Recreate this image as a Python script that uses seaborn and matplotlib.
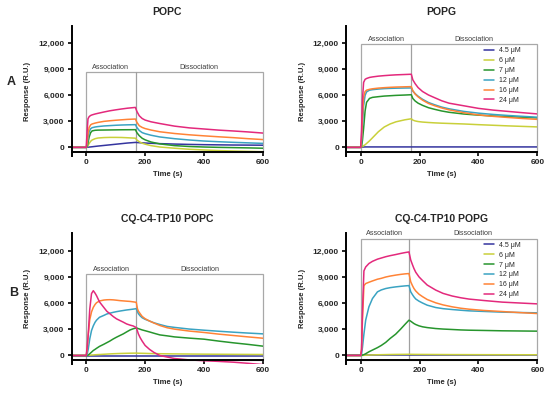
import numpy as np
import matplotlib
matplotlib.use("Agg")
import matplotlib.pyplot as plt
import matplotlib.patches as mpatches
import seaborn as sns

# ── Data ─────────────────────────────────────────────────────────────────────
LABELS = ["4.5 μM", "6 μM", "7 μM", "12 μM", "16 μM", "24 μM"]
COLORS = ["#34349f", "#c9d03a", "#27952d", "#3aa3c2", "#ff8336", "#e3297c"]

# A - POPC
T_A_POPC = [-50, 0, 3, 6, 10, 15, 20, 30, 40, 60, 80, 100, 120, 140, 167,
            172, 180, 190, 200, 220, 250, 300, 350, 400, 450, 500, 550, 600]
A_POPC_45 = [0, 0, 10, 20, 35, 50, 70, 110, 150, 220, 290, 360, 430, 500, 570,
             560, 540, 520, 500, 470, 430, 380, 340, 310, 290, 270, 260, 250]
A_POPC_6 = [0, 0, 50, 200, 450, 700, 850, 1000, 1080, 1130, 1150, 1150, 1140, 1110, 1060,
            850, 650, 480, 370, 200, 40, -100, -220, -300, -370, -420, -460, -500]
A_POPC_7 = [0, 0, 100, 500, 1200, 1700, 1900, 1970, 1990, 2000, 2010, 2020, 2030, 2035, 2040,
            1700, 1350, 1050, 870, 620, 400, 200, 100, 40, 0, -30, -60, -100]
A_POPC_12 = [0, 0, 300, 1000, 1800, 2150, 2270, 2350, 2400, 2470, 2510, 2550, 2580, 2600, 2620,
             2300, 1950, 1700, 1580, 1400, 1200, 1000, 850, 730, 650, 580, 520, 460]
A_POPC_16 = [0, 0, 500, 1500, 2300, 2600, 2700, 2800, 2880, 3000, 3070, 3130, 3180, 3230, 3270,
             2900, 2500, 2300, 2170, 2000, 1800, 1600, 1450, 1330, 1220, 1120, 1000, 900]
A_POPC_24 = [0, 0, 1800, 3300, 3550, 3680, 3750, 3850, 3930, 4080, 4220, 4330, 4430, 4520, 4610,
             4150, 3650, 3330, 3150, 2950, 2750, 2450, 2250, 2120, 1990, 1890, 1780, 1650]

# A - POPG
T_A_POPG = [-50, 0, 3, 6, 10, 15, 20, 30, 40, 60, 80, 100, 120, 150, 172,
            177, 185, 195, 210, 230, 250, 275, 300, 350, 400, 450, 500, 550, 600]
A_POPG_45 = [0, 0, 20, 30, 40, 50, 50, 50, 50, 50, 50, 50, 50, 50, 50,
             50, 50, 50, 50, 50, 50, 50, 50, 50, 50, 50, 50, 50, 50]
A_POPG_6 = [0, 0, 50, 100, 200, 300, 450, 750, 1100, 1800, 2350, 2700, 2950, 3180, 3300,
            3150, 3050, 2980, 2920, 2870, 2830, 2790, 2760, 2700, 2620, 2550, 2480, 2420, 2360]
A_POPG_7 = [0, 0, 100, 800, 2200, 4200, 5200, 5650, 5770, 5850, 5920, 5960, 6000, 6040, 6075,
            5650, 5350, 5100, 4850, 4580, 4400, 4200, 4050, 3850, 3720, 3620, 3550, 3480, 3400]
A_POPG_12 = [0, 0, 600, 2500, 4800, 6000, 6400, 6600, 6660, 6730, 6780, 6810, 6830, 6850, 6860,
             6500, 6200, 5900, 5550, 5180, 4930, 4650, 4450, 4150, 3950, 3800, 3680, 3580, 3480]
A_POPG_16 = [0, 0, 1000, 3500, 5800, 6450, 6600, 6700, 6760, 6840, 6890, 6930, 6960, 6990, 7010,
             6550, 6150, 5830, 5450, 5070, 4820, 4550, 4330, 4000, 3750, 3580, 3450, 3330, 3230]
A_POPG_24 = [0, 0, 2000, 5500, 7500, 7850, 7950, 8070, 8130, 8220, 8280, 8330, 8370, 8410, 8440,
             7800, 7350, 6900, 6450, 6050, 5750, 5380, 5100, 4800, 4500, 4300, 4150, 4000, 3860]

# B - CQ-C4-TP10 POPC
T_B_POPC = [-50, 0, 3, 7, 12, 18, 24, 30, 35, 45, 60, 70, 80, 92, 103, 115, 126, 137, 149, 160, 170,
            174, 177, 183, 190, 200, 215, 230, 250, 275, 300, 350, 400, 450, 500, 550, 600]
B_POPC_45 = [-50, -50, -50, -50, -50, -50, -50, -50, -50, -50, -50, -50, -50, -50, -50, -50, -50, -50, -50, -50, -50,
             -50, -50, -50, -50, -50, -50, -50, -50, -50, -50, -50, -50, -50, -50, -50, -50]
B_POPC_6 = [0, 0, 10, 20, 30, 50, 60, 80, 90, 110, 140, 160, 180, 200, 215, 230, 240, 250, 260, 265, 270,
            265, 260, 255, 250, 240, 225, 215, 200, 190, 180, 165, 150, 140, 130, 120, 110]
B_POPC_7 = [0, 0, 0, 50, 200, 380, 570, 700, 820, 1040, 1290, 1470, 1650, 1900, 2100, 2300, 2480, 2700, 2930, 3070, 3160,
            3120, 3080, 3010, 2930, 2840, 2700, 2550, 2360, 2250, 2130, 1990, 1870, 1650, 1450, 1270, 1070]
B_POPC_12 = [0, 0, 100, 760, 1900, 2860, 3400, 3810, 4050, 4380, 4600, 4760, 4850, 4950, 5030, 5100, 5160, 5220, 5270, 5320, 5370,
             5050, 4800, 4550, 4330, 4150, 3950, 3750, 3550, 3330, 3220, 3030, 2900, 2780, 2670, 2570, 2480]
B_POPC_16 = [0, 0, 600, 2480, 4100, 5000, 5520, 5850, 6050, 6250, 6360, 6390, 6400, 6380, 6340, 6290, 6260, 6230, 6200, 6150, 6100,
             5350, 5100, 4800, 4480, 4220, 3950, 3720, 3440, 3180, 3020, 2800, 2640, 2450, 2290, 2130, 1980]
B_POPC_24 = [0, 0, 900, 2500, 5300, 7100, 7430, 7150, 6860, 6150, 5500, 5070, 4800, 4460, 4200, 4000, 3820, 3620, 3480, 3380, 3200,
             2800, 2480, 2050, 1650, 1150, 700, 350, 0, -180, -350, -510, -600, -680, -770, -900, -1050]

# B - CQ-C4-TP10 POPG
T_B_POPG = [-50, 0, 3, 6, 11, 17, 28, 40, 57, 70, 85, 100, 119, 135, 150, 164,
            170, 176, 181, 187, 198, 210, 226, 255, 280, 311, 340, 368, 420, 481, 540, 600]
B_POPG_45 = [0, 0, 0, 0, 0, 0, 0, 0, 0, 0, 0, 0, 0, 0, 0, 0,
             0, 0, 0, 0, 0, 0, 0, 0, 0, 0, 0, 0, 0, 0, 0, 0]
B_POPG_6 = [0, 0, 5, 10, 20, 30, 50, 65, 80, 90, 100, 110, 120, 125, 130, 135,
            130, 128, 125, 122, 120, 118, 115, 110, 105, 100, 98, 95, 90, 85, 82, 80]
B_POPG_7 = [0, 0, 10, 40, 100, 200, 420, 620, 900, 1150, 1500, 1950, 2450, 3000, 3550, 4050,
            3930, 3780, 3660, 3550, 3400, 3290, 3200, 3090, 3030, 2980, 2930, 2900, 2870, 2830, 2810, 2790]
B_POPG_12 = [0, 0, 200, 900, 2450, 4050, 5580, 6530, 7300, 7520, 7680, 7780, 7870, 7930, 7980, 8020,
             7300, 6970, 6720, 6480, 6230, 6020, 5770, 5500, 5370, 5270, 5190, 5120, 5050, 4970, 4930, 4890]
B_POPG_16 = [0, 0, 800, 4000, 8000, 8250, 8400, 8550, 8750, 8850, 9000, 9110, 9220, 9300, 9360, 9400,
             8450, 8000, 7680, 7400, 7030, 6750, 6420, 6040, 5800, 5580, 5420, 5310, 5160, 5040, 4920, 4810]
B_POPG_24 = [0, 0, 600, 5000, 9700, 10150, 10550, 10800, 11050, 11180, 11330, 11450, 11580, 11700, 11800, 11880,
             10950, 10400, 9970, 9550, 9020, 8600, 8080, 7500, 7120, 6820, 6620, 6470, 6300, 6120, 6020, 5920]

TITLES = ["POPC", "POPG", "CQ-C4-TP10 POPC", "CQ-C4-TP10 POPG"]
BOX_TOPS = [8650, 11900, 9350, 13400]
SWITCH = [168, 172, 170, 164]
X_TICKS = [0, 200, 400, 600]
Y_TICKS = [0, 3000, 6000, 9000, 12000]

# ── Style ────────────────────────────────────────────────────────────────────
sns.set_theme(style="ticks")
plt.rcParams["font.family"] = ["Liberation Sans", "DejaVu Sans"]

fig = plt.figure(figsize=(5.5, 3.95), dpi=100)
positions = [
    [0.130, 0.605, 0.348, 0.329],
    [0.629, 0.605, 0.348, 0.329],
    [0.130, 0.078, 0.348, 0.331],
    [0.629, 0.078, 0.348, 0.331],
]
panels = [
    (T_A_POPC, [A_POPC_45, A_POPC_6, A_POPC_7, A_POPC_12, A_POPC_16, A_POPC_24]),
    (T_A_POPG, [A_POPG_45, A_POPG_6, A_POPG_7, A_POPG_12, A_POPG_16, A_POPG_24]),
    (T_B_POPC, [B_POPC_45, B_POPC_6, B_POPC_7, B_POPC_12, B_POPC_16, B_POPC_24]),
    (T_B_POPG, [B_POPG_45, B_POPG_6, B_POPG_7, B_POPG_12, B_POPG_16, B_POPG_24]),
]

for i, (pos, (t, curves)) in enumerate(zip(positions, panels)):
    ax = fig.add_axes(pos)
    for vals, lab, col in zip(curves, LABELS, COLORS):
        sns.lineplot(x=t, y=vals, ax=ax, color=col, linewidth=1.1, label=lab)

    ax.set_xlim(-50, 600)
    ax.set_ylim(-1000, 14000)

    # association / dissociation frame
    top = BOX_TOPS[i]
    ax.add_patch(mpatches.Rectangle((0, -500), 600, top + 500, fill=False,
                                    edgecolor="#a8a8a8", linewidth=0.9, clip_on=False, zorder=1))
    ax.plot([SWITCH[i], SWITCH[i]], [-500, top], color="#a0a0a0", linewidth=0.9, zorder=1)
    ax.text(SWITCH[i] / 2, top + 150, "Association", ha="center", va="bottom",
            fontsize=5.2, color="#404040")
    ax.text((SWITCH[i] + 600) / 2, top + 150, "Dissociation", ha="center", va="bottom",
            fontsize=5.2, color="#404040")

    sns.despine(ax=ax)
    ax.spines["bottom"].set_position(("data", -500))
    for s in ["left", "bottom"]:
        ax.spines[s].set_linewidth(1.4)
        ax.spines[s].set_color("black")
    ax.set_xticks(X_TICKS)
    ax.set_yticks(Y_TICKS)
    ax.yaxis.set_major_formatter(plt.FuncFormatter(lambda v, _: f"{int(v):,}"))
    ax.tick_params(axis="both", labelsize=6, width=1.2, length=3, color="black", pad=2)
    for lbl in ax.get_xticklabels() + ax.get_yticklabels():
        lbl.set_fontweight("bold")

    ax.set_xlabel("Time (s)", fontsize=5.5, fontweight="bold", labelpad=4)
    ax.set_ylabel("Response (R.U.)", fontsize=5.5, fontweight="bold", labelpad=5)
    ax.set_title(TITLES[i], fontsize=7.5, fontweight="bold", pad=8)

    if i % 2 == 1:
        ax.legend(loc="upper left", bbox_to_anchor=(420, top - 350),
                  bbox_transform=ax.transData, frameon=False, fontsize=5,
                  handlelength=1.4, handletextpad=0.7, labelspacing=0.42,
                  borderpad=0, borderaxespad=0)
    else:
        ax.get_legend().remove()

fig.text(0.021, 0.792, "A", fontsize=9, fontweight="bold", ha="center", va="center")
fig.text(0.025, 0.258, "B", fontsize=9, fontweight="bold", ha="center", va="center")

fig.savefig("out.png", dpi=100)
